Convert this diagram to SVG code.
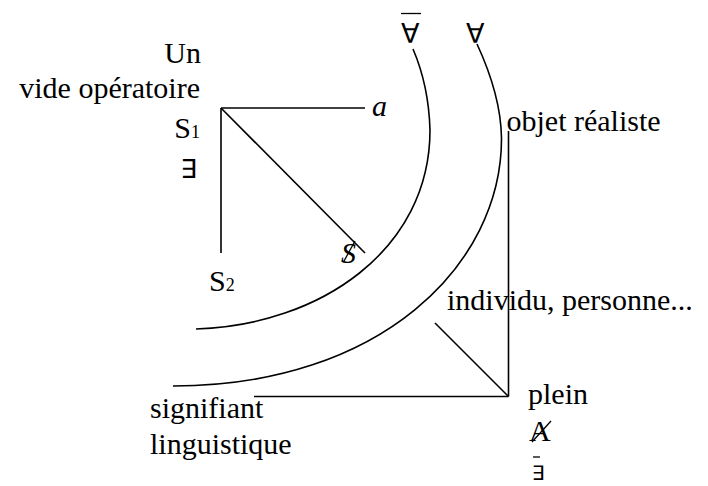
<svg xmlns="http://www.w3.org/2000/svg" width="708" height="486" viewBox="0 0 708 486">
<style>
text{font-family:"Liberation Serif","Times New Roman",serif;font-size:30px;fill:#000}
.sym{font-family:"DejaVu Sans","Noto Sans",sans-serif}
.it{font-style:italic}
.sub{font-size:18px}
line,path{stroke:#000;stroke-width:1.6;fill:none;stroke-linecap:butt}
.thin{stroke-width:1.3}
</style>
<rect width="708" height="486" fill="#fff"/>
<g id="arcs">
<path id="arc-inner" d="M413,49 C422,70 429,95 430,130 C430,250 320,325 196,329"/>
<path id="arc-outer" d="M477,44 C490,72 501,105 501.5,138 C502,265 380,386 173,386"/>
</g>
<g id="connectors">
<line x1="221" y1="108" x2="365" y2="108"/>
<line x1="221" y1="108" x2="221" y2="253"/>
<line x1="221" y1="108" x2="365" y2="253"/>
<line x1="508.5" y1="131" x2="508.5" y2="396.5"/>
<line x1="254" y1="396.5" x2="508.5" y2="396.5"/>
<line x1="435" y1="323" x2="508.5" y2="396.5"/>
</g>
<g id="n-un"><text x="201" y="63" text-anchor="end">Un</text></g>
<g id="n-vide"><text x="200" y="98" text-anchor="end">vide opératoire</text></g>
<g id="n-s1"><text x="200" y="138" text-anchor="end">S<tspan class="sub">1</tspan></text></g>
<g id="n-exists"><text class="sym" x="197" y="178" text-anchor="end" style="font-size:26px">∃</text></g>
<g id="n-a"><text class="it" x="372" y="116">a</text></g>
<g id="n-s2"><text x="209" y="291">S<tspan class="sub">2</tspan></text></g>
<g id="n-sbarred"><text class="it" x="341" y="263">S</text><line class="thin" x1="355" y1="241" x2="343.5" y2="262"/></g>
<g id="n-forall-bar"><line class="thin" x1="401" y1="13.5" x2="421" y2="13.5"/><text class="sym" x="401" y="42.5" style="font-size:27px">∀</text></g>
<g id="n-forall"><text class="sym" x="466" y="42.5" style="font-size:27px">∀</text></g>
<g id="n-objet"><text x="506.5" y="131">objet réaliste</text></g>
<g id="n-individu"><text x="447" y="310">individu, personne...</text></g>
<g id="n-plein"><text x="528" y="404">plein</text></g>
<g id="n-abarred"><text x="529" y="441">A</text><line class="thin" x1="551" y1="421" x2="532" y2="442"/></g>
<g id="n-exists-bar"><line class="thin" x1="533" y1="457" x2="540" y2="457"/><text class="sym" x="532" y="480" style="font-size:20px">∃</text></g>
<g id="n-signifiant"><text x="150" y="418">signifiant</text><text x="150" y="454">linguistique</text></g>
</svg>
